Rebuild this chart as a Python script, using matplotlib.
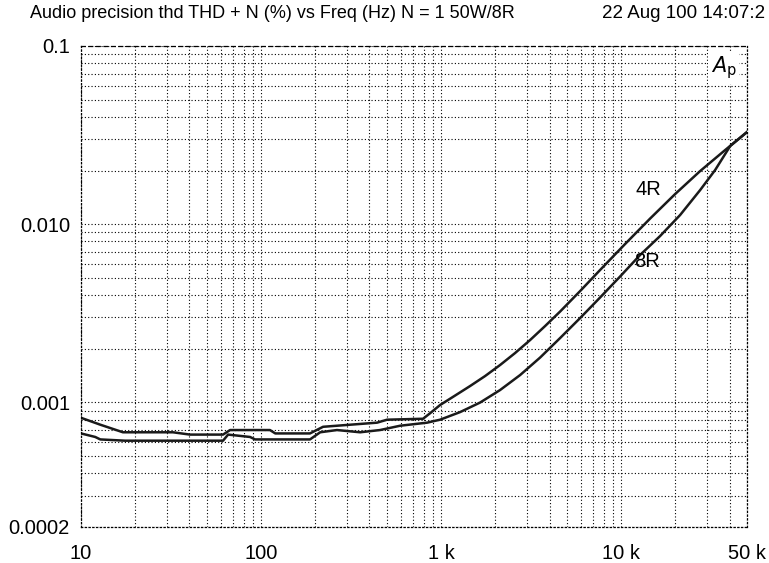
import matplotlib
matplotlib.use("Agg")
import matplotlib.pyplot as plt
from matplotlib.ticker import FixedLocator, LogLocator, NullFormatter

plt.rcParams["font.family"] = ["Liberation Sans", "DejaVu Sans"]

# THD+N (%) vs frequency
freq_4r = [10, 12.8, 17.1, 32.4, 40.3, 61.5, 67.3, 112, 120, 187, 221, 441, 501,
           794, 869, 987, 1196, 1449, 1755, 2127, 2576, 3121, 3781, 4581, 5920,
           7638, 10520, 14490, 19950, 27470, 37840, 50000]
thd_4r = [0.00082, 0.00075, 0.00068, 0.00068, 0.00066, 0.00066, 0.00070, 0.00070,
          0.00067, 0.00067, 0.00073, 0.00077, 0.00080, 0.00081, 0.00087, 0.000967,
          0.001093, 0.001236, 0.001406, 0.001622, 0.001893, 0.002239, 0.002683,
          0.003236, 0.004218, 0.005534, 0.007745, 0.010764, 0.01477, 0.01988,
          0.026089, 0.0329]

freq_8r = [10, 12.0, 12.8, 17.6, 61.5, 65.6, 86.9, 92.6, 187, 213, 264, 355, 458,
           592, 836, 987, 1276, 1648, 2127, 2748, 3548, 4581, 5920, 7638, 9864,
           12740, 16460, 21260, 27470, 33270, 40330, 50000]
thd_8r = [0.00067, 0.00064, 0.00062, 0.00061, 0.00061, 0.00066, 0.00064, 0.00062,
          0.00062, 0.00068, 0.00070, 0.00068, 0.00070, 0.00074, 0.00077, 0.00080,
          0.000883, 0.000999, 0.001174, 0.001425, 0.001786, 0.002298, 0.002976,
          0.003879, 0.005087, 0.006718, 0.008586, 0.011262, 0.015551, 0.020142,
          0.027466, 0.0329]

x_ticks = [10, 100, 1000, 10000, 50000]
x_labels = ["10", "100", "1 k", "10 k", "50 k"]
y_ticks = [0.1, 0.01, 0.001, 0.0002]
y_labels = ["0.1", "0.010", "0.001", "0.0002"]

fig = plt.figure(figsize=(7.69, 5.63), dpi=100)
ax = fig.add_axes([81 / 769, 1 - 527 / 563, 666 / 769, 481 / 563])

ax.plot(freq_4r, thd_4r, color="#1a1a1a", lw=1.8)
ax.plot(freq_8r, thd_8r, color="#1a1a1a", lw=1.8)

ax.set_xscale("log")
ax.set_yscale("log")
ax.set_xlim(10, 50000)
ax.set_ylim(0.0002, 0.1)

ax.xaxis.set_major_locator(FixedLocator(x_ticks))
ax.set_xticklabels(x_labels)
ax.yaxis.set_major_locator(FixedLocator(y_ticks))
ax.set_yticklabels(y_labels)
ax.xaxis.set_minor_locator(LogLocator(base=10, subs=range(2, 10)))
ax.yaxis.set_minor_locator(LogLocator(base=10, subs=range(2, 10)))
ax.xaxis.set_minor_formatter(NullFormatter())
ax.yaxis.set_minor_formatter(NullFormatter())
ax.tick_params(which="both", length=0, labelsize=14.5)
ax.tick_params(axis="x", pad=12)
ax.tick_params(axis="y", pad=8)

ax.set_axisbelow(True)
ax.grid(which="both", color="black", lw=0.8, linestyle=(0, (1, 2)))
for side in ["left", "right", "bottom"]:
    ax.spines[side].set_linestyle((0, (1, 2)))
    ax.spines[side].set_linewidth(0.9)
ax.spines["top"].set_linestyle((0, (3, 3)))
ax.spines["top"].set_linewidth(0.9)

ax.text(14130, 0.0156, "4R", fontsize=14.5, ha="center", va="center")
ax.text(13940, 0.00614, "8R", fontsize=14.5, ha="center", va="center")
ax.text(0.965, 0.955, r"$\mathit{A}_{\mathrm{p}}$", transform=ax.transAxes,
        fontsize=15, ha="center", va="center",
        bbox=dict(facecolor="white", edgecolor="none", pad=2))

fig.text(30 / 769, 1 - 14 / 563, "Audio precision thd THD + N (%) vs Freq (Hz) N = 1 50W/8R",
         fontsize=13, ha="left", va="center")
fig.text(765 / 769, 1 - 14 / 563, "22 Aug 100 14:07:2", fontsize=13.5, ha="right", va="center")

fig.savefig("out.png", dpi=100)
